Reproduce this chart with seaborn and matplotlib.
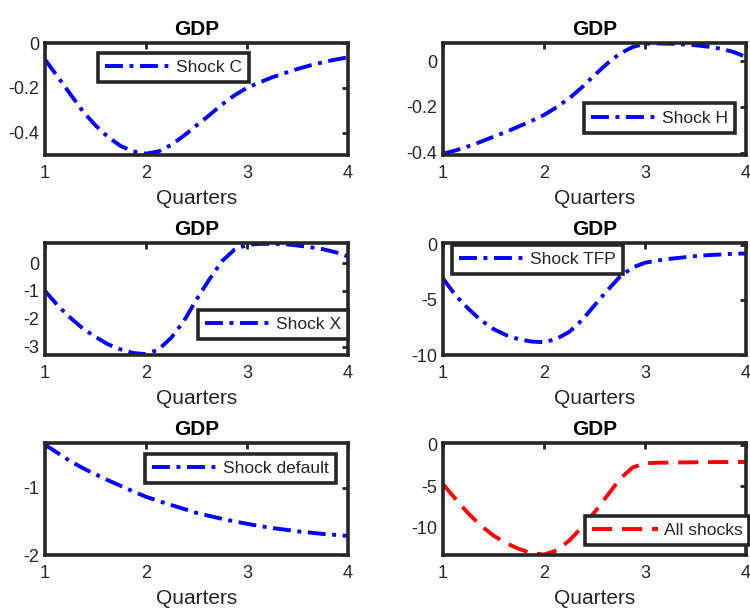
import matplotlib
matplotlib.use("Agg")
import matplotlib.pyplot as plt
import seaborn as sns
import pandas as pd
from matplotlib.ticker import FuncFormatter

# values at eighth-of-a-quarter steps
quarters = [1, 1.125, 1.25, 1.375, 1.5, 1.625, 1.75, 1.875,
            2, 2.125, 2.25, 2.375, 2.5, 2.625, 2.75, 2.875,
            3, 3.125, 3.25, 3.375, 3.5, 3.625, 3.75, 3.875, 4]

shock_c = [-0.074, -0.15, -0.228, -0.305, -0.368, -0.42, -0.46, -0.484,
           -0.494, -0.484, -0.455, -0.414, -0.368, -0.323, -0.275, -0.234,
           -0.2, -0.176, -0.153, -0.134, -0.116, -0.1, -0.086, -0.074, -0.064]
shock_h = [-0.404, -0.39, -0.372, -0.352, -0.33, -0.309, -0.285, -0.261,
           -0.235, -0.201, -0.162, -0.114, -0.061, -0.01, 0.033, 0.062,
           0.077, 0.078, 0.077, 0.074, 0.07, 0.064, 0.055, 0.041, 0.019]
shock_x = [-1.0, -1.52, -1.96, -2.35, -2.65, -2.92, -3.1, -3.23,
           -3.27, -3.1, -2.68, -2.08, -1.31, -0.6, 0.06, 0.48,
           0.65, 0.69, 0.69, 0.68, 0.63, 0.57, 0.5, 0.39, 0.24]
shock_tfp = [-3.07, -4.6, -5.8, -6.85, -7.65, -8.2, -8.57, -8.78,
             -8.84, -8.54, -7.9, -6.85, -5.5, -4.17, -2.92, -2.08,
             -1.64, -1.43, -1.28, -1.16, -1.04, -0.95, -0.89, -0.83, -0.8]
shock_default = [-0.366, -0.488, -0.61, -0.712, -0.805, -0.893, -0.976, -1.059,
                 -1.137, -1.2, -1.259, -1.317, -1.376, -1.42, -1.463, -1.502,
                 -1.537, -1.571, -1.6, -1.624, -1.649, -1.668, -1.688, -1.702, -1.717]
all_shocks = [-4.76, -6.56, -8.28, -9.76, -10.96, -11.88, -12.56, -13.08,
              -13.24, -12.76, -11.56, -9.96, -8.16, -6.16, -4.16, -2.76,
              -2.24, -2.18, -2.16, -2.14, -2.12, -2.11, -2.1, -2.09, -2.08]

series_names = ["Shock C", "Shock H", "Shock X", "Shock TFP", "Shock default", "All shocks"]
series_vals = [shock_c, shock_h, shock_x, shock_tfp, shock_default, all_shocks]
y_limits = [(-0.5, 0), (-0.41, 0.08), (-3.3, 0.72), (-10, 0.15), (-1.99, -0.34), (-13.3, 0.2)]
y_ticks = [[-0.4, -0.2, 0], [-0.4, -0.2, 0], [-3, -2, -1, 0], [-10, -5, 0], [-2, -1], [-10, -5, 0]]
x_ticks = [1, 2, 3, 4]

sns.set_style("white")
plt.rcParams["font.family"] = ["Liberation Sans", "DejaVu Sans"]
plt.rcParams["axes.unicode_minus"] = False

fig = plt.figure(figsize=(7.5, 6.1), dpi=100)

# axes placement in pixels (left, top) on a 750x610 canvas
W, H = 750, 610
ax_w, ax_h = 303, 112
lefts = [45, 443]
tops = [43, 243, 443]

# legend boxes (x0, y_top) in axes fraction
leg_pos = [(0.175, 0.915), (0.465, 0.46), (0.505, 0.405), (0.03, 0.985), (0.33, 0.905), (0.47, 0.345)]

dark = "#262626"

for i, (name, vals) in enumerate(zip(series_names, series_vals)):
    row, col = divmod(i, 2)
    ax = fig.add_axes([lefts[col] / W, 1 - (tops[row] + ax_h) / H, ax_w / W, ax_h / H])
    df = pd.DataFrame({"q": quarters, "v": vals})
    if name == "All shocks":
        sns.lineplot(data=df, x="q", y="v", ax=ax, color="red", linewidth=2.8,
                     dashes=False, linestyle=(0, (5.2, 2.5)), label=name)
    else:
        sns.lineplot(data=df, x="q", y="v", ax=ax, color="blue", linewidth=2.8,
                     dashes=False, linestyle=(0, (4.6, 1.7, 1.0, 1.7)), label=name)

    ax.set_xlim(1, 4)
    ax.set_ylim(*y_limits[i])
    ax.set_xticks(x_ticks)
    ax.set_yticks(y_ticks[i])
    ax.yaxis.set_major_formatter(FuncFormatter(lambda v, p: "%g" % v))
    ax.tick_params(direction="in", length=4, width=2, colors=dark, labelsize=13,
                   top=True, right=True, pad=4)
    ax.tick_params(axis="x", pad=7)
    for sp in ax.spines.values():
        sp.set_visible(True)
        sp.set_linewidth(2.6)
        sp.set_color(dark)
    ax.set_title("GDP", fontsize=15, fontweight="bold", pad=5.5, color="black")
    ax.set_xlabel("Quarters", fontsize=15, color=dark, labelpad=5)
    ax.set_ylabel("")

    leg = ax.legend(loc="upper left", bbox_to_anchor=leg_pos[i], fontsize=12.5,
                    handlelength=3.8, handletextpad=0.3, borderpad=0.4,
                    fancybox=False, framealpha=1, borderaxespad=0)
    leg.get_frame().set_edgecolor(dark)
    leg.get_frame().set_linewidth(2.6)
    for t in leg.get_texts():
        t.set_color(dark)

fig.savefig("out.png", dpi=100)
